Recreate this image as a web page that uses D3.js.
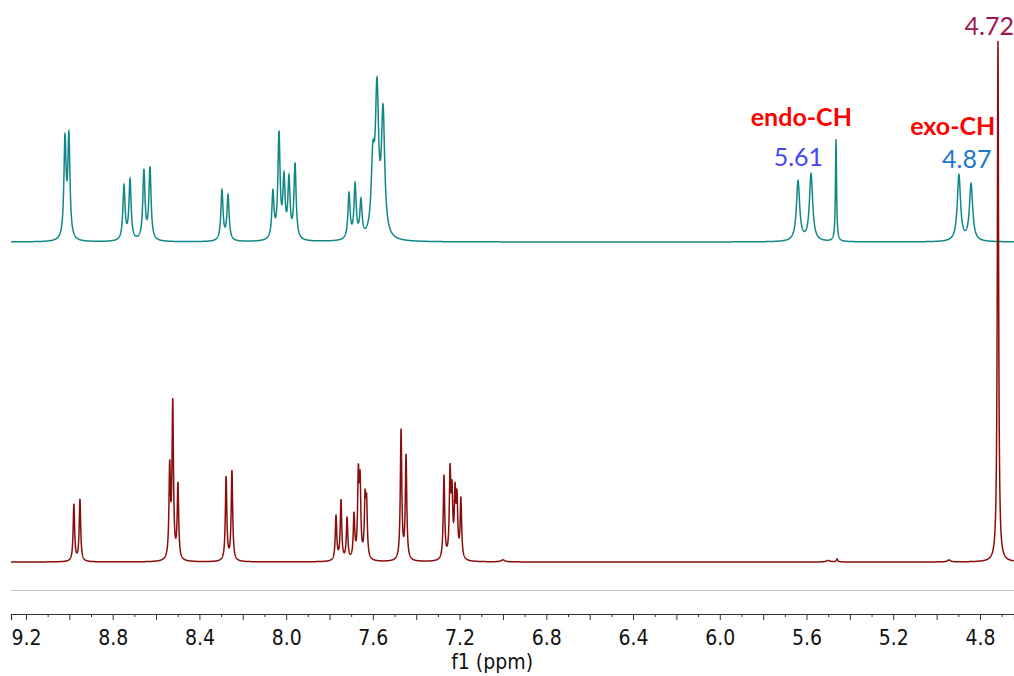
<!DOCTYPE html>
<html>
<head>
<meta charset="utf-8">
<script src="https://cdn.jsdelivr.net/npm/d3@7"></script>
<style>
  body { margin: 0; background: #fff; }
  .tick text { font-family: "DejaVu Sans Condensed", "DejaVu Sans", sans-serif; font-size: 21px; fill: #111; }
</style>
</head>
<body>
<script>
//peak lists: shift (ppm), height (intensity), half width (ppm)
var topPpm    = [9.020, 9.002, 8.748, 8.720, 8.656, 8.628, 8.296, 8.268,
                 8.061, 8.033, 8.010, 7.987, 7.959, 7.710, 7.682, 7.655,
                 7.600, 7.581, 7.553, 5.639, 5.579, 5.464, 4.897, 4.841];
var topHeight = [98, 101, 54, 60, 69, 72, 50, 45,
                 46, 104, 58, 58, 75, 45, 53, 36,
                 70, 140, 122, 60, 67, 102, 66, 57];
var topWidth  = [0.006, 0.006, 0.006, 0.006, 0.006, 0.006, 0.006, 0.006,
                 0.006, 0.006, 0.006, 0.006, 0.006, 0.006, 0.006, 0.006,
                 0.009, 0.009, 0.009, 0.009, 0.009, 0.003, 0.009, 0.009];

var botPpm    = [8.979, 8.951, 8.537, 8.523, 8.499, 8.277, 8.250,
                 7.770, 7.747, 7.719, 7.687, 7.667, 7.659, 7.636, 7.629,
                 7.470, 7.447, 7.272, 7.244, 7.235, 7.221, 7.212, 7.194,
                 7.000, 5.500, 5.459, 4.943, 4.717];
var botHeight = [57, 62, 90, 155, 75, 84, 90,
                 45, 60, 42, 44, 80, 72, 56, 52,
                 130, 104, 84, 84, 60, 62, 56, 60,
                 2, 1.5, 3, 2, 521];
var botWidth  = [0.004, 0.004, 0.004, 0.004, 0.004, 0.004, 0.004,
                 0.004, 0.004, 0.004, 0.004, 0.004, 0.004, 0.004, 0.004,
                 0.004, 0.004, 0.004, 0.004, 0.004, 0.004, 0.004, 0.004,
                 0.01, 0.01, 0.004, 0.008, 0.0035];

//axis ticks and labels
var ppmRange = [9.269, 4.643];
var tickLabels = ["9.2", "8.8", "8.4", "8.0", "7.6", "7.2", "6.8", "6.4", "6.0", "5.6", "5.2", "4.8"];

//annotations
var labelText  = ["endo-CH", "5.61", "exo-CH", "4.87", "4.72"];
var labelPpm   = [5.61, 5.61, 4.87, 4.87, 4.72];

var width = 1014,
    height = 676;

var svg = d3.select("body")
    .append("svg")
    .attr("width", width)
    .attr("height", height);

var x = d3.scaleLinear()
    .domain(ppmRange)
    .range([11, 1014]);

//both traces share one intensity scale, each with its own baseline
var yTop = d3.scaleLinear().domain([0, 521]).range([242, -279]);
var yBot = d3.scaleLinear().domain([0, 521]).range([562, 41]);

//sum of lorentzian lines for a peak list
function spectrum(ppm, h, w){
    var grid = d3.range(ppmRange[0], ppmRange[1], -0.0005).concat(ppm);
    grid.sort(function(a, b){ return b - a; });
    return grid.map(function(p){
        var s = 0;
        for (var i = 0; i < ppm.length; i++){
            var d = (p - ppm[i]) / w[i];
            s += h[i] / (1 + d * d);
        }
        return [p, s];
    });
}

var lineTop = d3.line()
    .x(function(d){ return x(d[0]); })
    .y(function(d){ return yTop(d[1]); });

var lineBot = d3.line()
    .x(function(d){ return x(d[0]); })
    .y(function(d){ return yBot(d[1]); });

svg.append("path")
    .datum(spectrum(topPpm, topHeight, topWidth))
    .attr("fill", "none")
    .attr("stroke", "#128787")
    .attr("stroke-width", 1.5)
    .attr("d", lineTop);

svg.append("path")
    .datum(spectrum(botPpm, botHeight, botWidth))
    .attr("fill", "none")
    .attr("stroke", "#880d0d")
    .attr("stroke-width", 1.5)
    .attr("d", lineBot);

//light separator above the axis
svg.append("line")
    .attr("x1", x.range()[0]).attr("x2", x.range()[1])
    .attr("y1", 590.5).attr("y2", 590.5)
    .attr("stroke", "#c8c8c8")
    .attr("stroke-width", 1.2);

//ppm axis: ticks every 0.1, longer every 0.2, labels every 0.4
var tickVals = d3.range(92, 46, -1).map(function(v){ return v / 10; });
var axis = d3.axisBottom(x)
    .tickValues(tickVals)
    .tickSizeOuter(0)
    .tickSize(6)
    .tickPadding(10)
    .tickFormat(function(d){
        var i = tickLabels.indexOf(d.toFixed(1));
        return i < 0 ? "" : tickLabels[i];
    });

var gx = svg.append("g")
    .attr("transform", "translate(0,614)")
    .call(axis);

gx.select(".domain").attr("stroke", "#333").attr("stroke-width", 1.2);
gx.selectAll(".tick line")
    .attr("stroke", "#333")
    .attr("y2", function(d){ return Math.round(d * 10) % 2 === 0 ? 6 : 3; });
gx.selectAll(".tick text").attr("dy", "0.71em");

svg.append("text")
    .attr("x", x(7.05))
    .attr("y", 669)
    .attr("text-anchor", "middle")
    .style("font-family", "'DejaVu Sans Condensed', 'DejaVu Sans', sans-serif")
    .style("font-size", "21px")
    .attr("fill", "#111")
    .text("f1 (ppm)");

//peak annotations
var labelDx    = [-3, -6, -12, 2, -8];
var labelY     = [126, 166, 135, 168, 35];
var labelColor = ["#ff0000", "#4848ee", "#ff0000", "#1f78c8", "#9e1650"];
var labelBold  = [true, false, true, false, false];

svg.selectAll(".note")
    .data(labelText)
    .enter()
    .append("text")
    .attr("class", "note")
    .attr("x", function(d, i){ return x(labelPpm[i]) + labelDx[i]; })
    .attr("y", function(d, i){ return labelY[i]; })
    .attr("text-anchor", "middle")
    .style("font-family", "Lato, 'Open Sans', sans-serif")
    .style("font-size", "25px")
    .style("font-weight", function(d, i){ return labelBold[i] ? "bold" : "normal"; })
    .attr("fill", function(d, i){ return labelColor[i]; })
    .text(function(d){ return d; });
</script>
</body>
</html>
